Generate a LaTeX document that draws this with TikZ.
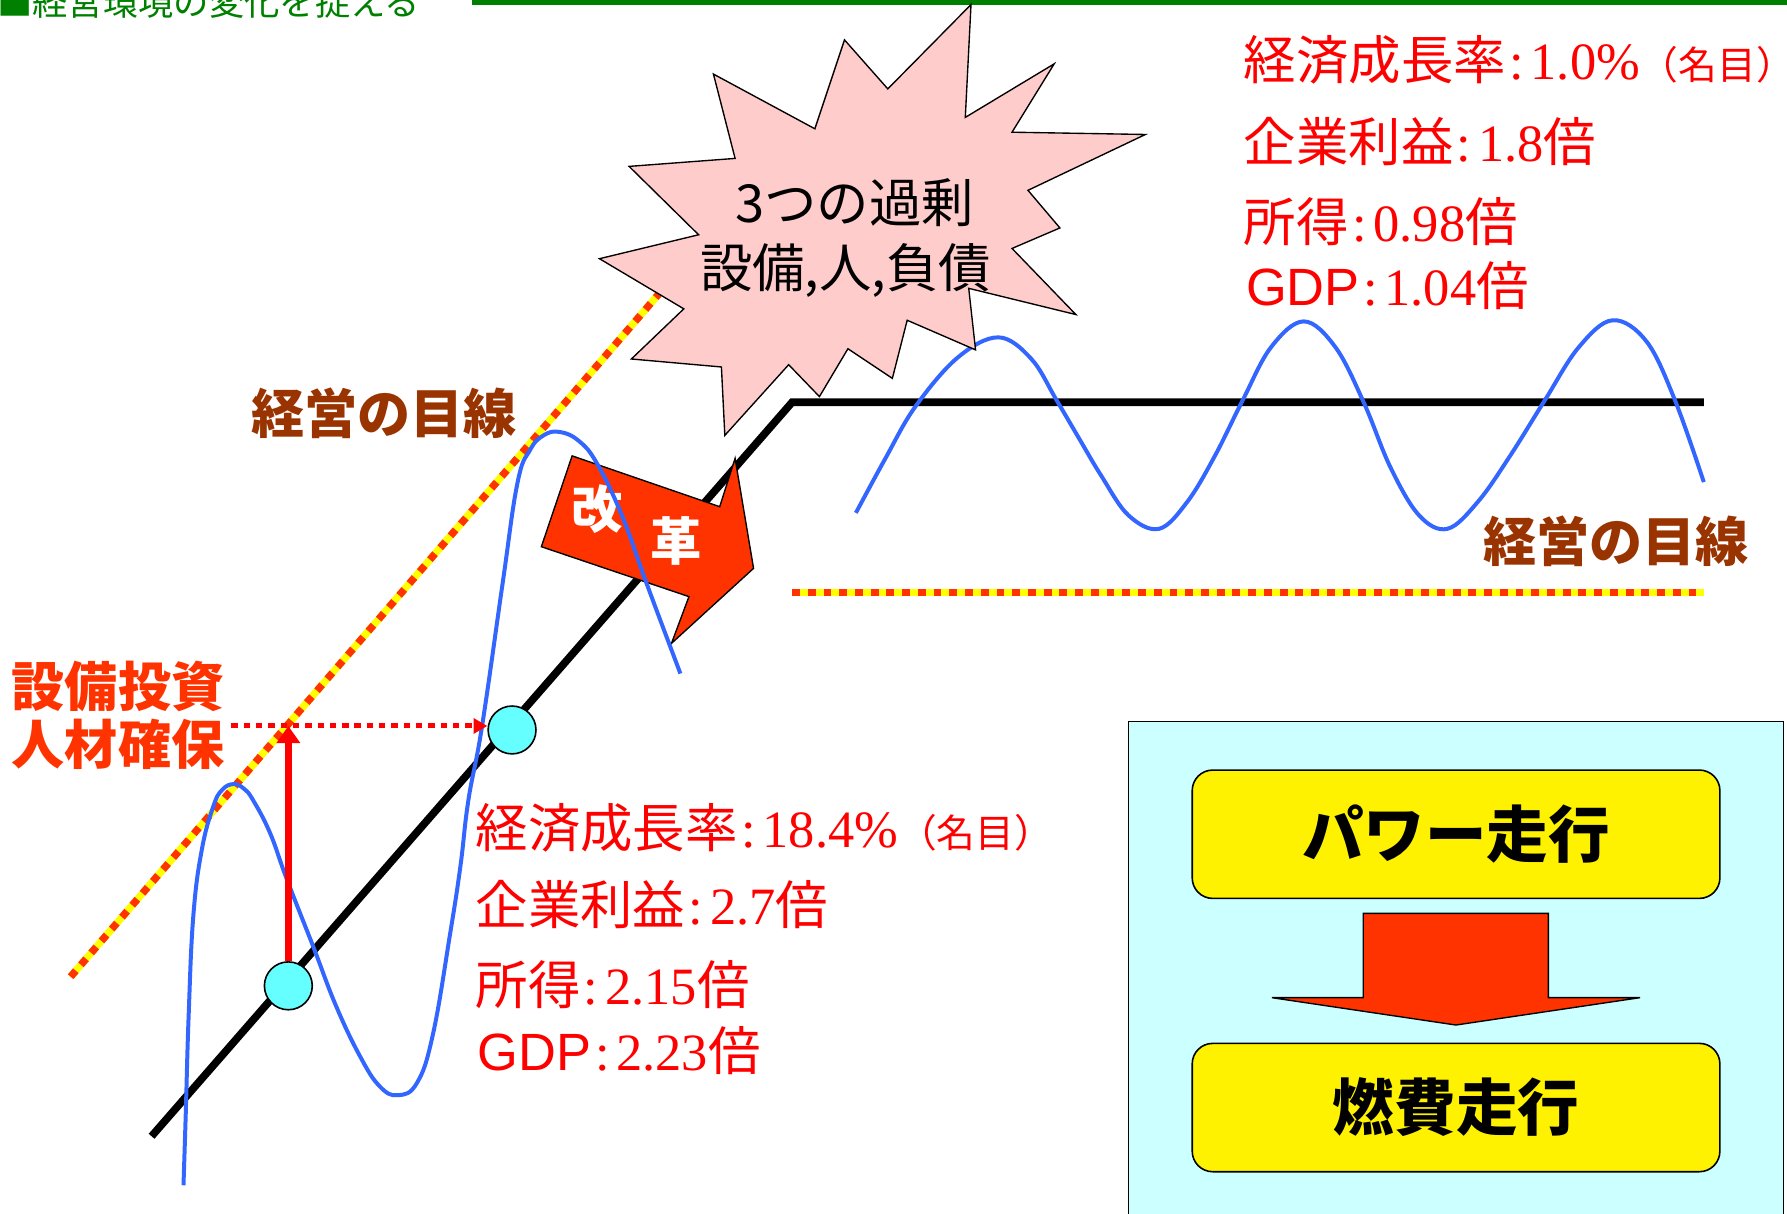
\documentclass[tikz,border=0pt]{standalone}
\usepackage{fontspec}
\setmainfont{Liberation Serif}
\newfontfamily\jpfont{Noto Sans CJK JP}
\newfontfamily\arialfont{Liberation Sans}
\usepackage{tikz}
\usetikzlibrary{arrows.meta}
\usetikzlibrary{positioning}

\definecolor{titlegreen}{HTML}{008000}
\definecolor{eyebrown}{HTML}{993300}
\definecolor{reformred}{HTML}{FF3300}
\definecolor{eyeyellow}{HTML}{FFFF00}
\definecolor{wavecolor}{HTML}{3366FF}
\definecolor{burstpink}{HTML}{FFCCCC}
\definecolor{dotcyan}{HTML}{66FFFF}
\definecolor{panelcyan}{HTML}{CCFFFF}

\newcommand{\statsize}{\fontsize{23}{27}\selectfont}
\newcommand{\jpbig}{\jpfont\bfseries\fontsize{23.3}{28}\selectfont}

\begin{document}
\begin{tikzpicture}[x=0.5pt,y=-0.5pt,
		stat/.style={anchor=base west,inner sep=0pt,text=red,font=\statsize},
		eyelabel/.style={anchor=base west,inner sep=0pt,text=eyebrown,font=\jpbig},
		eyeline/.style={line width=3.2pt,draw=eyeyellow,postaction={draw=reformred,line width=3.2pt,dash pattern=on 3.45pt off 3.45pt}},
		wave/.style={draw=wavecolor,line width=1.75pt},
		dot/.style={circle,draw,fill=dotcyan,line width=0.7pt,minimum size=21pt,inner sep=0pt},
		runbox/.style={draw,fill=yellow,rounded corners=9pt,line width=0.7pt,minimum width=231.5pt,minimum height=56.3pt,inner sep=0pt,font=\jpfont\bfseries\fontsize{27}{32}\selectfont}]
		\useasboundingbox (0,0) rectangle (1568,1065);

		\node [anchor=base west,inner sep=0pt,text=titlegreen,font=\jpfont\fontsize{15.5}{18}\selectfont] (title) at (-3,14) {■経営環境の変化を捉える};
		\fill [titlegreen] (414,-2) rectangle (1568,4);

		\draw [fill=panelcyan,line width=0.6pt] (990,633) rectangle (1565,1080);

		\draw [eyeline] (62,857) -- (578,258);
		\draw [eyeline] (695,520) -- (1495,520);

		\draw [line width=3.35pt] (133,997) -- (695,353) -- (1495,353);

		\draw [fill=reformred,line width=0.6pt] (502,400) -- (631.5,444.6) -- (645,402.2) -- (661.2,498.7) -- (589.2,564.5) -- (604.5,523.5) -- (475,479.7) -- cycle;
		\node [text=white,font=\jpfont\bfseries\fontsize{22.5}{27}\selectfont] (kai) at (524,447) {改};
		\node [text=white,font=\jpfont\bfseries\fontsize{22.5}{27}\selectfont] (kaku) at (593.5,474.5) {革};

		\draw [wave] plot [smooth,tension=0.7] coordinates {(161,1040) (163,977) (165.5,892) (169.6,804) (177,746) (187,708) (195,693) (205,688) (214,692) (222,702) (237,731) (251.5,771) (275,831) (295,883) (316,927) (333,953) (349,961) (366,950) (380,907) (395,819) (404,760) (411,702) (423,637) (441,512) (454,424) (465,395) (477,382) (491,379) (508,387) (524,407) (546,453) (567,511) (597,591)};
		\draw [wave] plot [smooth,tension=0.6] coordinates {(751,450) (777,402) (803,357) (840,314) (876,296) (905,315) (927,351) (947,385) (966,417) (990,452) (1017,464) (1042,440) (1066,400) (1090,352) (1115,305) (1144,282) (1172,305) (1197,354) (1220,410) (1245,452) (1270,464) (1297,440) (1325,400) (1355,352) (1385,305) (1415,281) (1445,300) (1470,352) (1495,423)};

		\draw [fill=burstpink,line width=0.6pt] (852,4) -- (847,103) -- (925,56) -- (888,116) -- (1005,118) -- (902,167) -- (930,200) -- (888,218) -- (944,276) -- (850,253) -- (856,307) -- (796,281) -- (783,332) -- (744,306) -- (719,348) -- (692,320) -- (636,382) -- (633,322) -- (554,315) -- (600,271) -- (526,227) -- (613,206) -- (552,146) -- (645,139) -- (626,65) -- (715,113) -- (741,35) -- (779,78) -- cycle;
		\node [font=\jpfont\fontsize{23}{27}\selectfont] (glut) at (750,178) {3つの過剰};
		\node [font=\jpfont\fontsize{23}{27}\selectfont] (glutkind) at (742,237) {設備,人,負債};

		\node [dot] (dotlow) at (253,865) {};
		\node [dot] (dothigh) at (449.3,640.5) {};
		\coordinate (invest) at (203,637);
		\draw [red,line width=3.2pt,-{Triangle[length=7.5pt,width=10pt]}] (dotlow.north) -- (dotlow.north |- invest);
		\draw [red,line width=2.2pt,dash pattern=on 2.8pt off 2.6pt,-{Triangle[length=6pt,width=6.5pt]}] (invest) -- (invest -| dothigh.west);

		\node [eyelabel] (eyeup) at (220,380.5) {経営の目線};
		\node [eyelabel] (eyedown) at (1301,493) {経営の目線};
		\node [eyelabel,text=reformred] (capex) at (10,620) {設備投資};
		\node [eyelabel,text=reformred] (hiring) at (10,671) {人材確保};

		\node [stat] (upgrowth) at (1091,70) {{\jpfont 経済成長率}\kern1.5pt:\kern3pt1.0\%{\jpfont\fontsize{17}{20}\selectfont （名目）\kern-8pt}};
		\node [stat] (upprofit) at (1091,142) {{\jpfont 企業利益}\kern1.5pt:\kern3pt1.8{\jpfont 倍}};
		\node [stat] (upincome) at (1091,212) {{\jpfont 所得}\kern1.5pt:\kern3pt0.98{\jpfont 倍}};
		\node [stat] (upgdp) at (1093,268) {{\arialfont GDP}\kern1.5pt:\kern3pt1.04{\jpfont 倍}};

		\node [stat] (lowgrowth) at (417,744) {{\jpfont 経済成長率}\kern1.5pt:\kern3pt18.4\%{\jpfont\fontsize{17}{20}\selectfont （名目）\kern-8pt}};
		\node [stat] (lowprofit) at (417,811.6) {{\jpfont 企業利益}\kern1.5pt:\kern3pt2.7{\jpfont 倍}};
		\node [stat] (lowincome) at (417,881.8) {{\jpfont 所得}\kern1.5pt:\kern3pt2.15{\jpfont 倍}};
		\node [stat] (lowgdp) at (419,939.4) {{\arialfont GDP}\kern1.5pt:\kern3pt2.23{\jpfont 倍}};

		\node [runbox] (power) at (1277.6,732) {パワー走行};
		\node [runbox,below=62.9pt of power] (fuel) {燃費走行};
		\draw [fill=reformred,line width=0.6pt] (1196.2,801.4) -- (1358.6,801.4) -- (1358.6,875.4) -- (1439,875.4) -- (1277.5,899.4) -- (1116,875.4) -- (1196.2,875.4) -- cycle;
	\end{tikzpicture}
\end{document}
